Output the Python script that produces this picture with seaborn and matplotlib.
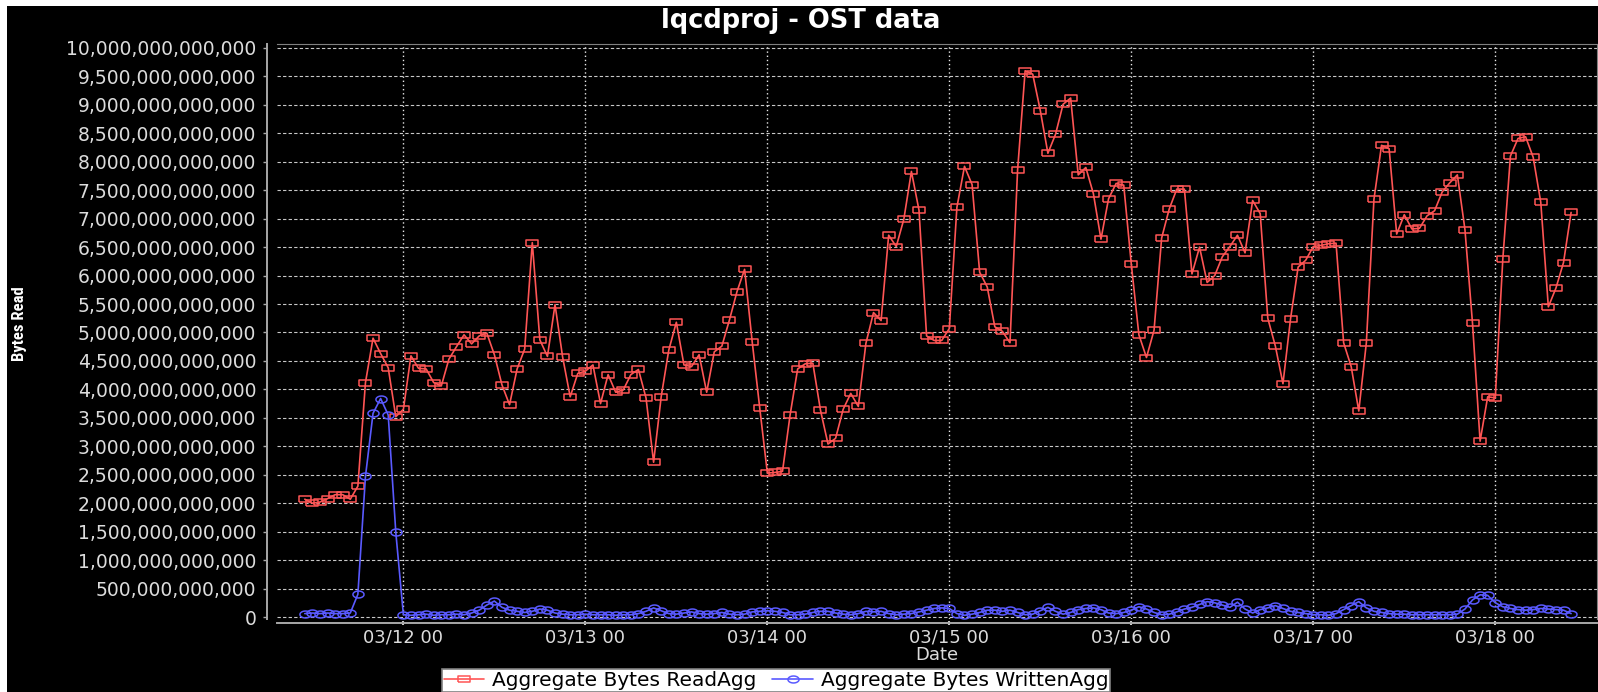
import numpy as np
import pandas as pd
import matplotlib
matplotlib.use("Agg")
import matplotlib.pyplot as plt
import matplotlib.dates as mdates
from matplotlib import font_manager
from matplotlib.ticker import FuncFormatter, MultipleLocator
from matplotlib.patches import Rectangle
import seaborn as sns

# hourly samples from 03/11 11:00 to 03/18 10:00, values in 1e12 bytes
start_time = "2011-03-11 11:00"

read_tb = [
    # 03/11 11:00 - 23:00
    2.07, 2.00, 2.02, 2.08, 2.15, 2.15, 2.07, 2.30, 4.12, 4.90, 4.63, 4.38, 3.52,
    # 03/12
    3.65, 4.59, 4.37, 4.36, 4.12, 4.06, 4.53, 4.75, 4.96, 4.80, 4.94, 4.99,
    4.61, 4.08, 3.73, 4.36, 4.71, 6.58, 4.87, 4.58, 5.49, 4.57, 3.87, 4.28,
    # 03/13
    4.32, 4.43, 3.75, 4.26, 3.95, 3.99, 4.26, 4.35, 3.85, 2.72, 3.87, 4.69,
    5.18, 4.43, 4.40, 4.61, 3.95, 4.66, 4.76, 5.22, 5.72, 6.11, 4.84, 3.67,
    # 03/14
    2.53, 2.54, 2.56, 3.55, 4.36, 4.45, 4.46, 3.64, 3.04, 3.14, 3.65, 3.93,
    3.70, 4.81, 5.35, 5.21, 6.71, 6.51, 6.99, 7.83, 7.15, 4.94, 4.86, 4.86,
    # 03/15
    5.07, 7.20, 7.92, 7.60, 6.06, 5.80, 5.10, 5.02, 4.82, 7.85, 9.60, 9.54,
    8.90, 8.15, 8.48, 9.01, 9.12, 7.77, 7.90, 7.44, 6.64, 7.35, 7.62, 7.59,
    # 03/16
    6.20, 4.96, 4.56, 5.04, 6.66, 7.17, 7.52, 7.52, 6.03, 6.50, 5.88, 6.00,
    6.33, 6.51, 6.71, 6.40, 7.32, 7.09, 5.25, 4.76, 4.10, 5.24, 6.15, 6.27,
    # 03/17
    6.51, 6.53, 6.56, 6.57, 4.82, 4.40, 3.62, 4.82, 7.34, 8.29, 8.23, 6.73,
    7.07, 6.82, 6.83, 7.05, 7.14, 7.47, 7.63, 7.77, 6.81, 5.16, 3.09, 3.87,
    # 03/18 00:00 - 10:00
    3.85, 6.30, 8.10, 8.41, 8.44, 8.08, 7.29, 5.45, 5.78, 6.23, 7.11,
]

written_tb = [
    # 03/11 11:00 - 23:00
    0.06, 0.07, 0.06, 0.07, 0.06, 0.06, 0.07, 0.40, 2.47, 3.58, 3.84, 3.55, 1.49,
    # 03/12
    0.04, 0.03, 0.04, 0.05, 0.03, 0.04, 0.04, 0.05, 0.04, 0.07, 0.12, 0.21,
    0.28, 0.17, 0.12, 0.10, 0.08, 0.10, 0.14, 0.12, 0.07, 0.05, 0.04, 0.04,
    # 03/13
    0.05, 0.04, 0.04, 0.04, 0.03, 0.04, 0.04, 0.06, 0.10, 0.16, 0.11, 0.06,
    0.05, 0.07, 0.09, 0.06, 0.05, 0.06, 0.08, 0.05, 0.04, 0.05, 0.09, 0.10,
    # 03/14
    0.11, 0.10, 0.08, 0.04, 0.04, 0.05, 0.08, 0.10, 0.10, 0.07, 0.05, 0.04,
    0.06, 0.10, 0.09, 0.10, 0.06, 0.04, 0.05, 0.06, 0.09, 0.12, 0.15, 0.16,
    # 03/15
    0.15, 0.06, 0.03, 0.05, 0.08, 0.12, 0.12, 0.10, 0.12, 0.08, 0.04, 0.05,
    0.11, 0.17, 0.10, 0.05, 0.08, 0.13, 0.15, 0.16, 0.13, 0.07, 0.06, 0.08,
    # 03/16
    0.12, 0.18, 0.14, 0.08, 0.04, 0.05, 0.09, 0.14, 0.17, 0.22, 0.27, 0.25,
    0.21, 0.17, 0.26, 0.14, 0.07, 0.13, 0.16, 0.20, 0.15, 0.10, 0.08, 0.06,
    # 03/17
    0.04, 0.04, 0.03, 0.06, 0.13, 0.20, 0.27, 0.16, 0.10, 0.08, 0.06, 0.05,
    0.05, 0.04, 0.04, 0.04, 0.04, 0.04, 0.04, 0.05, 0.14, 0.30, 0.39, 0.38,
    # 03/18 00:00 - 10:00
    0.25, 0.18, 0.15, 0.13, 0.12, 0.13, 0.15, 0.14, 0.13, 0.12, 0.06,
]

read_label = "Aggregate Bytes ReadAgg"
written_label = "Aggregate Bytes WrittenAgg"

df = pd.DataFrame({
    "date": pd.date_range(start_time, periods=len(read_tb), freq="h"),
    "read": np.array(read_tb) * 1e12,
    "written": np.array(written_tb) * 1e12,
})

RED = "#ff5555"
BLUE = "#5a5aff"
TEXT = "#dcdcdc"

sns.set_theme(style="ticks")
plt.rcParams["font.family"] = ["DejaVu Sans"]

# narrow face for the rotated axis title, if one is installed
installed = {f.name for f in font_manager.fontManager.ttflist}
narrow = next((n for n in ["Liberation Sans Narrow", "Roboto Condensed",
                           "Open Sans Condensed", "DejaVu Sans Condensed"]
               if n in installed), None)

W, H = 1598, 692
fig = plt.figure(figsize=(W / 100, H / 100), dpi=100, facecolor="white")
# black chart canvas (thin white margin on top/left like the source image)
fig.patches.append(Rectangle((7 / W, 0), 1, 1 - 6 / H, transform=fig.transFigure,
                             facecolor="black", edgecolor="none", zorder=-10))

ax = fig.add_axes([277 / W, 1 - 619 / H, (1597 - 277) / W, (619 - 44) / H])
ax.set_facecolor("black")

# wide-ish markers: the source chart was stretched horizontally
box = [(-1.6, -1), (1.6, -1), (1.6, 1), (-1.6, 1), (-1.6, -1)]
t = np.linspace(0, 2 * np.pi, 41)
ellipse = list(zip(1.6 * np.cos(t), np.sin(t)))

sns.lineplot(data=df, x="date", y="read", ax=ax, color=RED, linewidth=1.2,
             marker=box, markersize=8, markerfacecolor="none",
             markeredgecolor=RED, markeredgewidth=1.1, label=read_label)
sns.lineplot(data=df, x="date", y="written", ax=ax, color=BLUE, linewidth=1.2,
             marker=ellipse, markersize=8, markerfacecolor="none",
             markeredgecolor=BLUE, markeredgewidth=1.1, label=written_label)

ax.set_xlim(pd.Timestamp("2011-03-11 07:20"), pd.Timestamp("2011-03-18 13:25"))
ax.set_ylim(-0.035e12, 10.07e12)

ax.yaxis.set_major_locator(MultipleLocator(0.5e12))
ax.yaxis.set_major_formatter(FuncFormatter(lambda v, p: f"{v:,.0f}"))
ax.xaxis.set_major_locator(mdates.DayLocator())
ax.xaxis.set_major_formatter(mdates.DateFormatter("%m/%d %H"))

ax.yaxis.grid(True, color="#c8c8c8", linestyle=(0, (3, 2)), linewidth=0.8)
ax.xaxis.grid(True, color="#e8e8e8", linestyle=(0, (1, 2)), linewidth=1.0)
ax.set_axisbelow(True)

for side in ["top", "right"]:
    ax.spines[side].set_color("#808080")
    ax.spines[side].set_linewidth(0.8)
ax.spines["left"].set_position(("outward", 7))
ax.spines["bottom"].set_position(("outward", 3))
for side in ["left", "bottom"]:
    ax.spines[side].set_color("#a8a8a8")
    ax.spines[side].set_linewidth(1.4)

ax.tick_params(axis="y", colors="#a8a8a8", labelcolor=TEXT, labelsize=13.5,
               length=3, width=1, direction="out", pad=5)
ax.tick_params(axis="x", colors="#c8c8c8", labelcolor=TEXT, labelsize=13,
               length=3, width=1.5, direction="inout", pad=2)
ax.set_xlabel("")
ax.set_ylabel("")

fig.text(801 / W, 1 - 21 / H, "lqcdproj - OST data", ha="center", va="center",
         fontsize=18.5, fontweight="bold", color="white")
fig.text(937 / W, 1 - 655 / H, "Date", ha="center", va="center",
         fontsize=13, color=TEXT)
if narrow:
    fig.text(20 / W, 1 - 324 / H, "Bytes Read", ha="center", va="center",
             rotation=90, fontsize=12, fontweight="bold", color="white",
             family=[narrow, "DejaVu Sans"])
else:
    fig.text(20 / W, 1 - 324 / H, "Bytes Read", ha="center", va="center",
             rotation=90, fontsize=10.5, fontweight="bold", color="white")

handles, labels = ax.get_legend_handles_labels()
if ax.get_legend() is not None:
    ax.get_legend().remove()
leg = fig.legend(handles, labels, loc="lower center", bbox_to_anchor=(776 / W, 0.0),
                 ncol=2, frameon=True, fancybox=False, framealpha=1,
                 facecolor="white", edgecolor="#808080", fontsize=14.5,
                 borderpad=0.1, handlelength=2.0, handletextpad=0.4,
                 columnspacing=0.8, borderaxespad=0)
leg.get_frame().set_linewidth(1.2)
for txt in leg.get_texts():
    txt.set_color("black")

fig.savefig("out.png", dpi=100, facecolor=fig.get_facecolor())
